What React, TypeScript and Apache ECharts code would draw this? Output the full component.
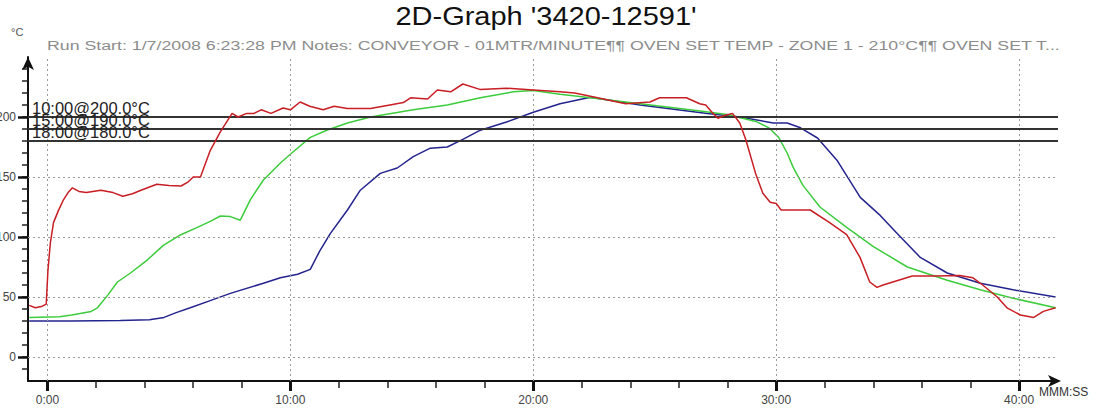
import React, { useEffect, useRef } from "react";
import * as echarts from "echarts";

const titleText = "2D-Graph '3420-12591'";
const subtitleText =
  "Run Start: 1/7/2008 6:23:28 PM Notes: CONVEYOR - 01MTR/MINUTE¶¶ OVEN SET TEMP - ZONE 1 - 210°C¶¶ OVEN SET T...";
const yUnitText = "°C";
const xUnitText = "MMM:SS";

const xLabelValues = [0, 10, 20, 30, 40];
const xTickValues = [0, 2, 4, 6, 8, 10, 12, 14, 16, 18, 20, 22, 24, 26, 28, 30, 32, 34, 36, 38, 40];
const yLabelValues = [0, 50, 100, 150, 200];
const yTickValues = [-10, 0, 10, 20, 30, 40, 50, 60, 70, 80, 90, 100, 110, 120, 130, 140, 150, 160, 170, 180, 190, 200, 210, 220, 230, 240];
const yGridValues = [0, 50, 100, 150];

const thresholdTemps = [200, 190, 180];
const thresholdLabels = ["10:00@200.0°C", "15:00@190.0°C", "18:00@180.0°C"];

// [minutes, °C]
const redData: [number, number][] = [
  [-0.75, 43], [-0.5, 41], [-0.25, 42], [-0.05, 44], [0.02, 72], [0.12, 95], [0.25, 112], [0.45, 122],
  [0.66, 131], [0.85, 137], [1.03, 141], [1.3, 138], [1.6, 137], [2.2, 139], [2.7, 137], [3.1, 134],
  [3.5, 136], [3.85, 139], [4.5, 144], [5.0, 143], [5.5, 142.5], [5.8, 146], [6.0, 150], [6.3, 150],
  [6.7, 172], [7.1, 187], [7.6, 203], [7.85, 200], [8.2, 203], [8.5, 203], [8.8, 206], [9.2, 203],
  [9.7, 207.5], [10.0, 206], [10.4, 212.5], [10.8, 209], [11.35, 206], [11.8, 209], [12.35, 207],
  [13.3, 207], [14.1, 210], [14.65, 212], [14.95, 216], [15.65, 215], [16.05, 222.5], [16.6, 221],
  [17.1, 227.5], [17.8, 223], [18.9, 224], [20.0, 222.5], [21.1, 221], [21.7, 220], [22.55, 216.5],
  [23.8, 211], [24.8, 212.5], [25.2, 216], [26.3, 216], [26.85, 211], [27.1, 210], [27.4, 203],
  [27.6, 199], [27.9, 201.5], [28.2, 203], [28.5, 195], [28.75, 181], [29.15, 153], [29.45, 136.5],
  [29.75, 129], [30.0, 128], [30.2, 122.5], [31.4, 122.5], [32.2, 112], [32.9, 102], [33.45, 83],
  [33.85, 62.5], [34.15, 58], [34.4, 60], [34.8, 62.5], [35.6, 67.5], [36.6, 67.5], [37.55, 68],
  [38.1, 66], [38.5, 60], [39.1, 50], [39.5, 41], [40.05, 35], [40.6, 33], [41.0, 38], [41.5, 41],
];

const greenData: [number, number][] = [
  [-0.75, 33], [0.5, 33.5], [1.0, 35], [1.8, 38], [2.06, 41], [2.5, 52], [2.88, 62.5], [3.42, 70],
  [4.12, 81], [4.77, 93], [5.47, 101.7], [6.17, 108], [6.7, 113], [7.12, 117.5], [7.53, 117], [7.94, 114],
  [8.35, 131], [8.89, 147.5], [9.59, 161.7], [10.12, 171], [10.82, 183], [11.5, 189], [12.35, 195],
  [13.3, 200], [15.06, 206], [16.46, 210], [17.82, 216], [19.18, 221], [20.0, 222], [21.1, 219],
  [22.35, 216], [24.4, 211], [26.87, 205], [27.98, 202], [29.2, 196], [29.7, 191], [30.1, 183],
  [30.45, 170], [30.7, 158], [31.1, 143], [31.8, 125], [32.9, 108], [34.0, 92], [35.4, 75],
  [37.04, 64], [38.4, 56], [39.75, 49], [41.5, 41],
];

const blueData: [number, number][] = [
  [-0.75, 30], [1, 30], [3, 30.5], [4.2, 31], [4.8, 33], [5.3, 37], [5.88, 41], [6.7, 47], [7.53, 53],
  [8.89, 61.5], [9.59, 66], [10.3, 69], [10.82, 73], [11.2, 88], [11.65, 103], [12.35, 122.5],
  [12.88, 139], [13.7, 153], [14.4, 157.5], [15.06, 167], [15.76, 174], [16.46, 175], [17.12, 181.5],
  [17.82, 189], [18.93, 196], [20.0, 204], [21.1, 211], [22.35, 216.5], [24.4, 210], [27.16, 203],
  [28.5, 200], [29.88, 195], [30.45, 195], [31.0, 191], [31.7, 182.5], [32.5, 164], [33.46, 133],
  [34.28, 118], [34.98, 103], [35.93, 83], [37.04, 70], [38.4, 61.5], [39.75, 56], [41.5, 50],
];

const FONT = "'Liberation Sans', Arial, sans-serif";

export default function App() {
  const ref = useRef<HTMLDivElement>(null);
  useEffect(() => {
    if (!ref.current) return;
    const chart = echarts.init(ref.current, undefined, { renderer: "svg" });
    const gridStyle = { color: "#9a9a9a", type: [2, 3] as any, width: 1 };
    const xRange = { min: -0.8, max: 41.6 };
    const yRange = { min: -20, max: 250 };
    chart.setOption({
      animation: false,
      backgroundColor: "#ffffff",
      graphic: [
        {
          type: "text",
          x: 546,
          y: 4,
          scaleX: 1.16,
          style: {
            text: titleText,
            textAlign: "center",
            textVerticalAlign: "top",
            fontFamily: FONT,
            fontSize: 25,
            fill: "#111",
          },
        },
        {
          type: "text",
          x: 47,
          y: 39,
          scaleX: 1.42,
          style: {
            text: subtitleText,
            textAlign: "left",
            textVerticalAlign: "top",
            fontFamily: FONT,
            fontSize: 12.5,
            fill: "#8c8c8c",
          },
        },
        {
          type: "text",
          x: 11,
          y: 26,
          style: { text: yUnitText, fontFamily: FONT, fontSize: 11, fill: "#555", textVerticalAlign: "top" },
        },
        {
          type: "text",
          x: 1039,
          y: 386,
          style: { text: xUnitText, fontFamily: FONT, fontSize: 12, fill: "#333", textVerticalAlign: "top" },
        },
      ],
      grid: { left: 28, right: 57, top: 57, bottom: 29, containLabel: false, outerBoundsMode: "none" },
      xAxis: [
        {
          type: "value",
          ...xRange,
          axisLine: {
            show: true,
            onZero: false,
            lineStyle: { color: "#111", width: 2 },
            symbol: ["none", "arrow"],
            symbolSize: [9, 13],
            symbolOffset: [0, 3],
          },
          axisTick: { show: true, customValues: xTickValues, length: 7, lineStyle: { color: "#222", width: 1.5 } },
          axisLabel: {
            customValues: xLabelValues,
            margin: 13,
            fontFamily: FONT,
            fontSize: 12,
            color: "#444",
            formatter: (v: number) => `${v}:00`,
          },
          splitLine: { show: false },
        },
        {
          type: "value",
          ...xRange,
          position: "bottom",
          axisLine: { show: false, onZero: false },
          axisTick: { show: true, customValues: xLabelValues, length: 10, lineStyle: { color: "#111", width: 3 } },
          axisLabel: { show: false },
          splitLine: { show: false },
        },
      ],
      yAxis: [
        {
          type: "value",
          ...yRange,
          axisLine: {
            show: true,
            onZero: false,
            lineStyle: { color: "#111", width: 2 },
            symbol: ["none", "arrow"],
            symbolSize: [9, 13],
          },
          axisTick: { show: true, customValues: yTickValues, length: 6, lineStyle: { color: "#222", width: 1.5 } },
          axisLabel: {
            customValues: yLabelValues,
            margin: 12,
            fontFamily: FONT,
            fontSize: 12,
            color: "#444",
          },
          splitLine: { show: false },
        },
        {
          type: "value",
          ...yRange,
          position: "left",
          axisLine: { show: false, onZero: false },
          axisTick: { show: true, customValues: yLabelValues, length: 10, lineStyle: { color: "#111", width: 2.5 } },
          axisLabel: { show: false },
          splitLine: { show: false },
        },
      ],
      series: [
        {
          type: "line",
          name: "grid",
          data: [],
          silent: true,
          z: 1,
          markLine: {
            silent: true,
            symbol: ["none", "none"],
            label: { show: false },
            lineStyle: gridStyle,
            data: [
              ...yGridValues.map((v) => ({ yAxis: v })),
              ...xLabelValues.map((v) => ({ xAxis: v })),
            ],
          },
        },
        {
          type: "line",
          name: "thresholds",
          data: [],
          silent: true,
          z: 2,
          markLine: {
            silent: true,
            symbol: ["none", "none"],
            lineStyle: { color: "#333", type: "solid", width: 2 },
            label: {
              show: true,
              position: "insideStartTop",
              distance: [4, 1],
              fontFamily: FONT,
              fontSize: 16.5,
              color: "#222",
            },
            data: thresholdTemps.map((v, i) => ({
              yAxis: v,
              label: { formatter: thresholdLabels[i] },
            })),
          },
        },
        {
          type: "line",
          name: "Red",
          data: redData,
          showSymbol: false,
          z: 5,
          lineStyle: { color: "#c81e24", width: 1.5 },
        },
        {
          type: "line",
          name: "Green",
          data: greenData,
          showSymbol: false,
          z: 4,
          lineStyle: { color: "#3ccc3c", width: 1.5 },
        },
        {
          type: "line",
          name: "Blue",
          data: blueData,
          showSymbol: false,
          z: 3,
          lineStyle: { color: "#24248f", width: 1.5 },
        },
      ],
    });
    return () => chart.dispose();
  }, []);
  return (
    <div
      ref={ref}
      style={{ position: "absolute", left: 0, top: 0, width: 1115, height: 410, background: "#fff" }}
    />
  );
}
